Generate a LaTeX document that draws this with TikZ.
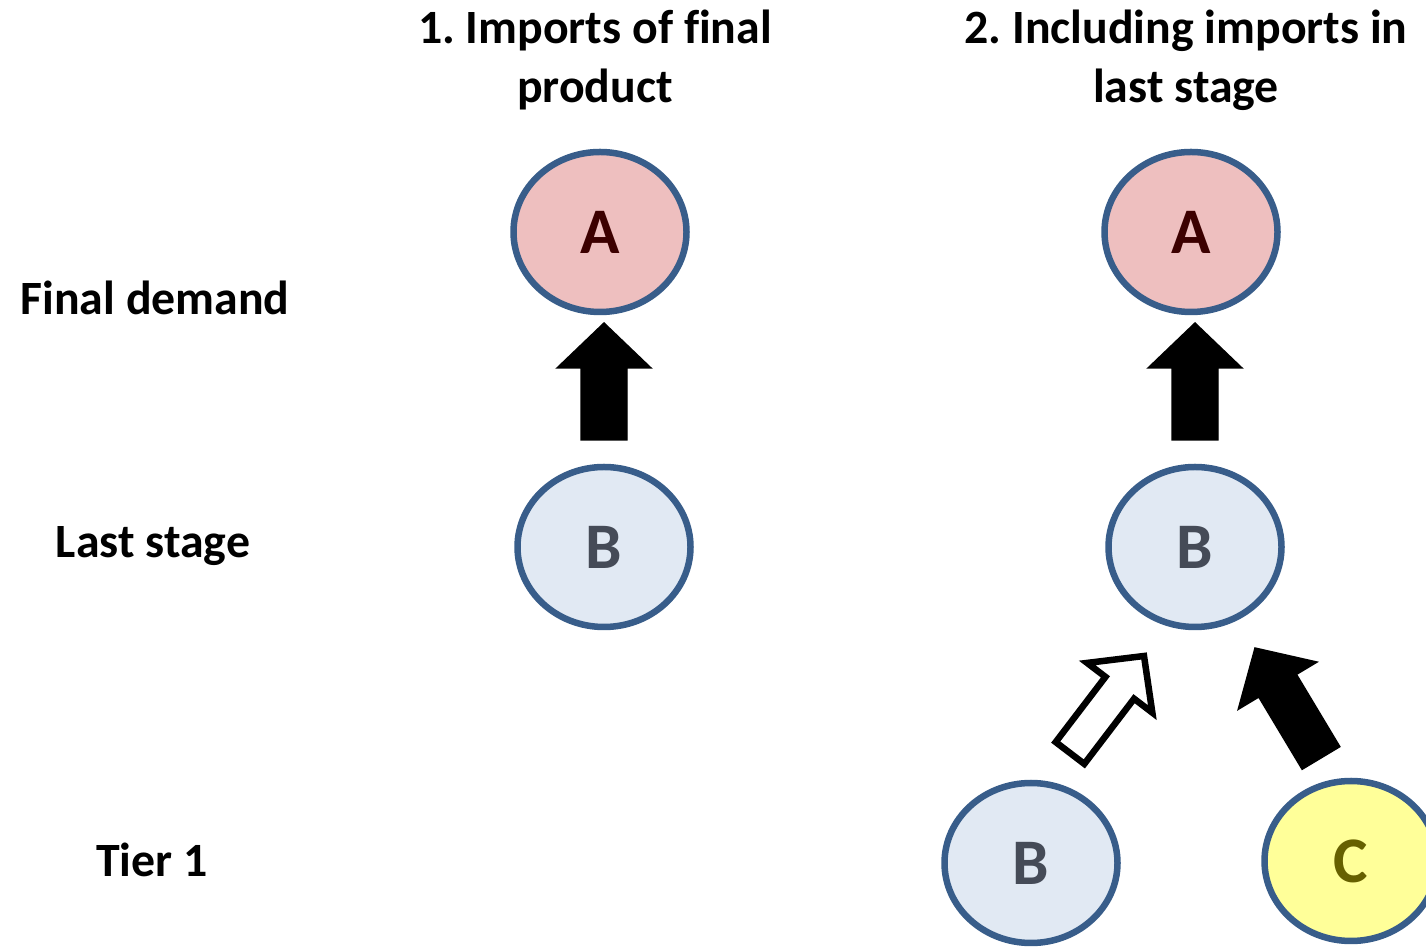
\documentclass[tikz,border=0pt]{standalone}
\usepackage{fontspec}
\setmainfont{Carlito}[Ligatures=NoCommon]
\usetikzlibrary{calc}
\usetikzlibrary{shapes.geometric}
\frenchspacing

\definecolor{bordbleu}{HTML}{385D8A}
\definecolor{roseA}{HTML}{EEBFBF}
\definecolor{texteA}{HTML}{3C0000}
\definecolor{bleuB}{HTML}{E1E9F3}
\definecolor{texteB}{HTML}{454B57}
\definecolor{jauneC}{HTML}{FFFF99}
\definecolor{texteC}{HTML}{666000}

\tikzset{
  etape/.style={ellipse, draw=bordbleu, line width=0.065cm, inner sep=0pt,
    minimum width=1.73cm, minimum height=1.60cm,
    font=\fontsize{18.5}{20}\selectfont\bfseries},
  titre/.style={align=center, font=\fontsize{13.6}{16.8}\selectfont\bfseries},
  ligne/.style={font=\fontsize{13.6}{16.8}\selectfont\bfseries}
}

% fleche epaisse : style, queue, pointe, demi-corps, demi-tete, longueur tete
\newcommand{\grossefleche}[6]{%
  \coordinate (hb) at ($(#3)!#6!(#2)$);
  \draw[#1] ($(#2)!#4!90:(#3)$) -- ($(hb)!#4!90:(#3)$) -- ($(hb)!#5!90:(#3)$)
    -- (#3) -- ($(hb)!#5!-90:(#3)$) -- ($(hb)!#4!-90:(#3)$)
    -- ($(#2)!#4!-90:(#3)$) -- cycle;
}

\begin{document}
\begin{tikzpicture}
  \useasboundingbox (0,0) rectangle (14.26,9.47);

  % Titres des colonnes
  \node[titre] (t1) at (5.95,8.87) {1. Imports of final\\product};
  \node[titre] (t2) at (11.86,8.87) {2. Including imports in\\last stage};

  % Etiquettes des niveaux
  \node[ligne] (fd) at (1.55,6.49) {Final demand};
  \node[ligne] (ls) at (1.53,4.01) {Last stage};
  \node[ligne] (t1r) at (1.52,0.87) {Tier 1};

  % Cas 1
  \node[etape, fill=roseA, text=texteA] (A1) at (6.00,7.15) {A};
  \node[etape, fill=bleuB, text=texteB] (B1) at (6.04,4.00) {B};

  % Cas 2
  \node[etape, fill=roseA, text=texteA] (A2) at (11.91,7.15) {A};
  \node[etape, fill=bleuB, text=texteB] (B2) at (11.95,4.00) {B};
  \node[etape, fill=bleuB, text=texteB] (B3) at (10.31,0.84) {B};
  \node[etape, fill=jauneC, text=texteC] (C3) at (13.51,0.86) {C};

  % Extremites des fleches
  \coordinate (q1) at (6.04,5.07);
  \coordinate (p1) at (6.04,6.24);
  \coordinate (q2) at (11.95,5.07);
  \coordinate (p2) at (11.95,6.24);
  \coordinate (q3) at (10.70,1.94);
  \coordinate (p3) at (11.44,2.91);
  \coordinate (q4) at (13.21,1.89);
  \coordinate (p4) at (12.55,2.99);

  % Fleches
  \grossefleche{fill=black}{q1}{p1}{0.23cm}{0.47cm}{0.45cm}
  \grossefleche{fill=black}{q2}{p2}{0.23cm}{0.47cm}{0.45cm}
  \grossefleche{draw=black, fill=white, line width=0.065cm}{q3}{p3}{0.18cm}{0.41cm}{0.40cm}
  \grossefleche{fill=black}{q4}{p4}{0.22cm}{0.46cm}{0.44cm}

\end{tikzpicture}
\end{document}
